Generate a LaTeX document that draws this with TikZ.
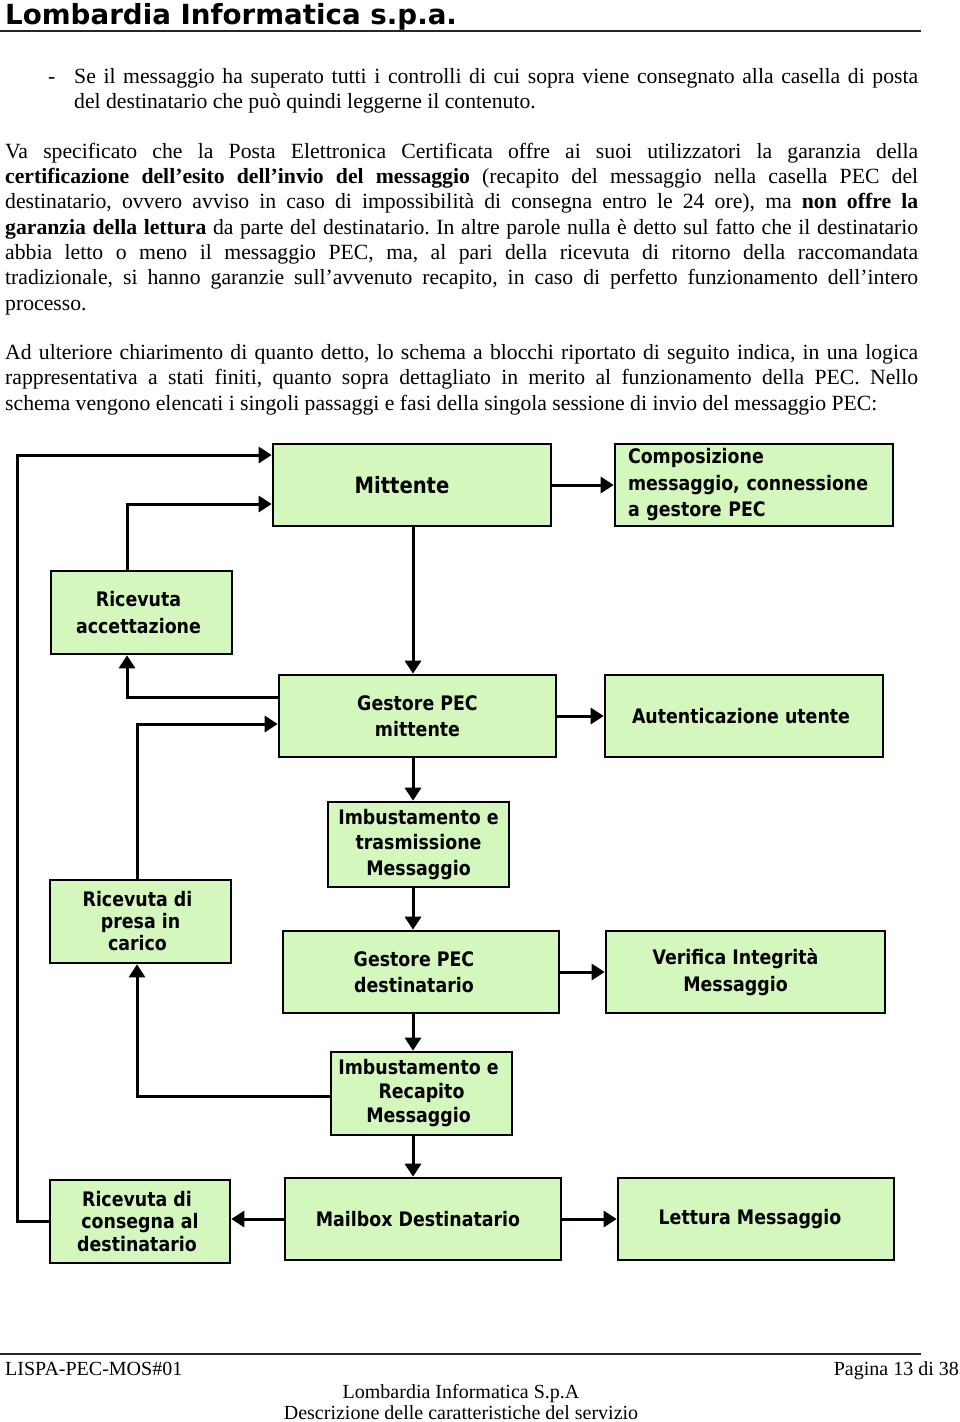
\documentclass[tikz,border=0pt]{standalone}
\usepackage{fontspec}
\setmainfont{Liberation Serif}
\newfontfamily\hdrfont{DejaVu Sans}
\newfontfamily\boxfont{DejaVu Sans}[FakeStretch=0.87]
\usetikzlibrary{arrows.meta}
\definecolor{boxgreen}{RGB}{212,247,190}
\frenchspacing
\begin{document}
\begin{tikzpicture}[x=1pt,y=-1pt,
  box/.style={draw=black, line width=2.6pt, fill=boxgreen, inner sep=0pt, align=center,
    font=\boxfont\bfseries\fontsize{20}{26.5}\selectfont},
  arr/.style={line width=3pt, -{Triangle[length=13pt,width=16pt]}},
  txt/.style={anchor=base west, inner sep=0pt, font=\fontsize{21.7}{25}\selectfont},
  foot/.style={inner sep=0pt, font=\fontsize{20}{22}\selectfont},
  rule/.style={line width=1.5pt, draw=black!85}
]
\useasboundingbox (0,0) rectangle (960,1422);

% header
\node[anchor=base west, inner sep=0pt, font=\hdrfont\bfseries\fontsize{27.7}{30}\selectfont] (hdr) at (5,24) {Lombardia Informatica s.p.a.};
\coordinate (hrl) at (0,31);
\coordinate (hrr) at (921,31);
\draw[rule] (hrl) -- (hrr);

% bullet paragraph
\node[txt] (dash) at (48,83) {-};
\node[txt] (b1) at (74,83) {\makebox[844pt][s]{Se il messaggio ha superato tutti i controlli di cui sopra viene consegnato alla casella di posta}};
\node[txt] (b2) at (74,108) {del destinatario che può quindi leggerne il contenuto.};

% paragraph 2
\node[txt] (p1) at (5,158) {\makebox[913pt][s]{Va specificato che la Posta Elettronica Certificata offre ai suoi utilizzatori la garanzia della}};
\node[txt] (p2) at (5,183) {\makebox[913pt][s]{\textbf{certificazione dell'esito dell'invio del messaggio} (recapito del messaggio nella casella PEC del}};
\node[txt] (p3) at (5,208) {\makebox[913pt][s]{destinatario, ovvero avviso in caso di impossibilità di consegna entro le 24 ore), ma \textbf{non offre la}}};
\node[txt] (p4) at (5,234) {\makebox[913pt][s]{\textbf{garanzia della lettura} da parte del destinatario. In altre parole nulla è detto sul fatto che il destinatario}};
\node[txt] (p5) at (5,259) {\makebox[913pt][s]{abbia letto o meno il messaggio PEC, ma, al pari della ricevuta di ritorno della raccomandata}};
\node[txt] (p6) at (5,284) {\makebox[913pt][s]{tradizionale, si hanno garanzie sull'avvenuto recapito, in caso di perfetto funzionamento dell'intero}};
\node[txt] (p7) at (5,310) {processo.};

% paragraph 3
\node[txt] (q1) at (5,359) {\makebox[913pt][s]{Ad ulteriore chiarimento di quanto detto, lo schema a blocchi riportato di seguito indica, in una logica}};
\node[txt] (q2) at (5,384) {\makebox[913pt][s]{rappresentativa a stati finiti, quanto sopra dettagliato in merito al funzionamento della PEC. Nello}};
\node[txt] (q3) at (5,410) {schema vengono elencati i singoli passaggi e fasi della singola sessione di invio del messaggio PEC:};

% boxes
\node[box, minimum width=278pt, minimum height=82pt, font=\boxfont\bfseries\fontsize{22.5}{26}\selectfont] (mit) at (412,485) {Mittente\hspace*{20pt}};
\node[box, minimum width=278pt, minimum height=82pt, text width=252pt, align=left] (comp) at (754,485) {Composizione\\messaggio, connessione\\a gestore PEC};
\node[box, minimum width=181pt, minimum height=83pt] (racc) at (141.5,612.5) {Ricevuta\hspace*{6pt}\\accettazione\hspace*{6pt}};
\node[box, minimum width=277pt, minimum height=82pt] (gmit) at (417.5,716) {Gestore PEC\\mittente};
\node[box, minimum width=278pt, minimum height=82pt] (aut) at (744,716) {Autenticazione utente\hspace*{6pt}};
\node[box, minimum width=181pt, minimum height=85pt, font=\boxfont\bfseries\fontsize{20}{25.5}\selectfont] (imbt) at (418.5,844.5) {Imbustamento e\\trasmissione\\Messaggio};
\node[box, minimum width=181pt, minimum height=83pt, font=\boxfont\bfseries\fontsize{20}{22}\selectfont] (rpres) at (140.5,921.5) {Ricevuta di\hspace*{6pt}\\presa in\hspace*{6pt}\\carico\hspace*{6pt}};
\node[box, minimum width=276pt, minimum height=82pt] (gdest) at (421,972) {Gestore PEC\hspace*{14pt}\\destinatario\hspace*{14pt}};
\node[box, minimum width=279pt, minimum height=82pt] (ver) at (745.5,972) {Verifica Integrità\hspace*{20pt}\\Messaggio\hspace*{20pt}};
\node[box, minimum width=181pt, minimum height=83pt, font=\boxfont\bfseries\fontsize{20}{24}\selectfont] (imbr) at (421.5,1093.5) {Imbustamento e\hspace*{6pt}\\Recapito\hspace*{6pt}\\Messaggio\hspace*{6pt}};
\node[box, minimum width=180pt, minimum height=83pt, font=\boxfont\bfseries\fontsize{20}{22.5}\selectfont] (rcons) at (140,1221.5) {Ricevuta di\hspace*{6pt}\\consegna al\hspace*{6pt}\\destinatario\hspace*{6pt}};
\node[box, minimum width=276pt, minimum height=82pt] (mail) at (423,1219) {Mailbox Destinatario\hspace*{10pt}};
\node[box, minimum width=276pt, minimum height=82pt] (lett) at (756,1219) {Lettura Messaggio\hspace*{12pt}};

% connectors
\coordinate (spine) at (413,0);
\coordinate (lx) at (17,0);
\draw[arr] (mit.south -| spine) -- (gmit.north -| spine);
\draw[arr] (gmit.south -| spine) -- (imbt.north -| spine);
\draw[arr] (imbt.south -| spine) -- (gdest.north -| spine);
\draw[arr] (gdest.south -| spine) -- (imbr.north -| spine);
\draw[arr] (imbr.south -| spine) -- (mail.north -| spine);

\draw[arr] (mit.east) -- (comp.west);
\draw[arr] (gmit.east) -- (aut.west);
\draw[arr] (gdest.east) -- (ver.west);
\draw[arr] (mail.east) -- (lett.west);
\draw[arr] (mail.west) -- (mail.west -| rcons.east);

\draw[arr] (rcons.west) -- (rcons.west -| lx) |- ([yshift=30pt]mit.west);
\draw[arr] ([xshift=-14.5pt]racc.north) |- ([yshift=-19pt]mit.west);
\draw[arr] ([yshift=19pt]gmit.west) -| ([xshift=-14.5pt]racc.south);
\draw[arr] ([xshift=-3.5pt]rpres.north) |- ([yshift=-8pt]gmit.west);
\draw[arr] ([yshift=-2.5pt]imbr.west) -| ([xshift=-3.5pt]rpres.south);

% footer
\coordinate (frl) at (0,1354);
\coordinate (frr) at (921,1354);
\draw[rule] (frl) -- (frr);
\node[foot, anchor=base west] (f1) at (5,1375) {LISPA-PEC-MOS\#01};
\node[foot, anchor=base east] (f2) at (959,1375) {Pagina 13 di 38};
\node[foot, anchor=base] (f3) at (461,1398) {Lombardia Informatica S.p.A};
\node[foot, anchor=base] (f4) at (461,1419) {Descrizione delle caratteristiche del servizio};
\end{tikzpicture}
\end{document}
